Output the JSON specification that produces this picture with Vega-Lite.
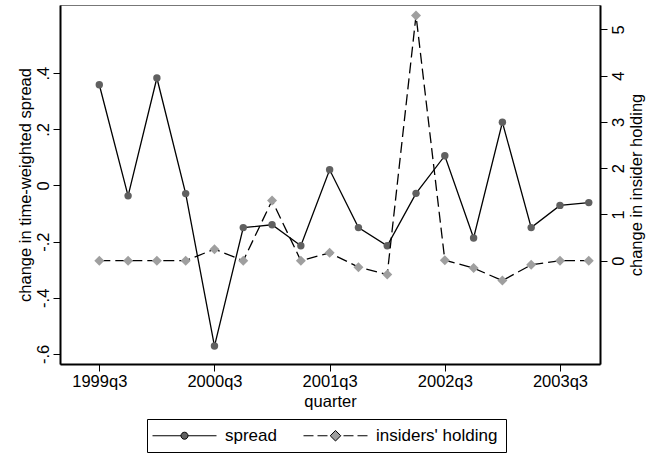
{
  "$schema": "https://vega.github.io/schema/vega-lite/v6.json",
  "width": 540,
  "height": 359,
  "autosize": {"type": "none"},
  "padding": {"left": 60, "top": 5, "right": 54, "bottom": 97},
  "background": "white",
  "config": {
    "font": "Liberation Sans",
    "view": {"stroke": "#777777", "strokeWidth": 1},
    "axis": {
      "domainColor": "black",
      "domainWidth": 2,
      "tickColor": "black",
      "tickWidth": 1,
      "tickSize": 7,
      "labelFont": "Liberation Sans",
      "labelFontSize": 16.5,
      "labelColor": "black",
      "titleFont": "Liberation Sans",
      "titleFontSize": 16.5,
      "titleFontWeight": "normal",
      "titleColor": "black",
      "grid": false
    },
    "legend": {
      "labelFont": "Liberation Sans",
      "labelFontSize": 17,
      "labelColor": "black"
    }
  },
  "data": {
    "values": [
      {"t": 0, "quarter": "1999q3", "spread": 0.359, "insider": 0},
      {"t": 1, "quarter": "1999q4", "spread": -0.037, "insider": 0},
      {"t": 2, "quarter": "2000q1", "spread": 0.383, "insider": 0},
      {"t": 3, "quarter": "2000q2", "spread": -0.029, "insider": 0},
      {"t": 4, "quarter": "2000q3", "spread": -0.572, "insider": 0.25},
      {"t": 5, "quarter": "2000q4", "spread": -0.150, "insider": 0},
      {"t": 6, "quarter": "2001q1", "spread": -0.140, "insider": 1.30},
      {"t": 7, "quarter": "2001q2", "spread": -0.215, "insider": 0},
      {"t": 8, "quarter": "2001q3", "spread": 0.056, "insider": 0.17},
      {"t": 9, "quarter": "2001q4", "spread": -0.150, "insider": -0.14},
      {"t": 10, "quarter": "2002q1", "spread": -0.215, "insider": -0.30},
      {"t": 11, "quarter": "2002q2", "spread": -0.028, "insider": 5.30},
      {"t": 12, "quarter": "2002q3", "spread": 0.106, "insider": 0.01},
      {"t": 13, "quarter": "2002q4", "spread": -0.187, "insider": -0.16},
      {"t": 14, "quarter": "2003q1", "spread": 0.225, "insider": -0.43},
      {"t": 15, "quarter": "2003q2", "spread": -0.150, "insider": -0.09},
      {"t": 16, "quarter": "2003q3", "spread": -0.071, "insider": 0},
      {"t": 17, "quarter": "2003q4", "spread": -0.061, "insider": 0}
    ]
  },
  "encoding": {
    "x": {
      "field": "t",
      "type": "quantitative",
      "scale": {"domain": [-1.365, 17.39], "nice": false, "zero": false},
      "axis": {
        "title": "quarter",
        "values": [0, 4, 8, 12, 16],
        "labelExpr": "(1999 + datum.value / 4) + 'q3'",
        "labelPadding": 2,
        "titlePadding": 4
      }
    }
  },
  "layer": [
    {
      "encoding": {
        "y": {
          "field": "spread",
          "type": "quantitative",
          "scale": {"domain": [-0.636, 0.643], "nice": false, "zero": false},
          "axis": {
            "orient": "left",
            "title": "change in time-weighted spread",
            "values": [-0.6, -0.4, -0.2, 0, 0.2, 0.4],
            "labelExpr": "datum.value == 0 ? '0' : (datum.value < 0 ? '-' : '') + replace(format(abs(datum.value), '.1f'), '0.', '.')",
            "labelAngle": 270,
            "labelAlign": "center",
            "labelBaseline": "bottom",
            "labelPadding": 2,
            "titlePadding": 2
          }
        }
      },
      "layer": [
        {"mark": {"type": "line", "color": "black", "strokeWidth": 1.3}},
        {
          "mark": {"type": "point", "shape": "circle", "filled": true, "opacity": 1, "size": 55, "color": "#606060"}
        },
        {
          "transform": [{"filter": "false"}],
          "mark": {"type": "point", "filled": true, "opacity": 1},
          "encoding": {
            "color": {
              "datum": "spread",
              "type": "nominal",
              "scale": {"domain": ["spread", "insiders' holding"], "range": ["#606060", "#9f9f9f"]},
              "legend": {
                "title": null,
                "orient": "none",
                "legendX": 87,
                "legendY": 414,
                "direction": "horizontal",
                "symbolSize": 256,
                "symbolOffset": 21,
                "symbolStrokeColor": "black",
                "symbolStrokeWidth": 1,
                "labelOffset": 32,
                "columnPadding": 24,
                "padding": 8,
                "strokeColor": "black",
                "fillColor": "white"
              }
            },
            "shape": {
              "datum": "spread",
              "type": "nominal",
              "scale": {
                "domain": ["spread", "insiders' holding"],
                "range": [
                  "M-4,0L-0.44,0M0.44,0L4,0M-0.44,0A0.44,0.44,0,1,0,0.44,0A0.44,0.44,0,1,0,-0.44,0Z",
                  "M-4,0L-2.75,0M-2.25,0L-1,0M1,0L2.25,0M2.75,0L4,0M0,-0.66L0.66,0L0,0.66L-0.66,0Z"
                ]
              },
              "legend": {
                "title": null,
                "orient": "none",
                "legendX": 87,
                "legendY": 414,
                "direction": "horizontal",
                "symbolSize": 256,
                "symbolOffset": 21,
                "symbolStrokeColor": "black",
                "symbolStrokeWidth": 1,
                "labelOffset": 32,
                "columnPadding": 24,
                "padding": 8,
                "strokeColor": "black",
                "fillColor": "white"
              }
            }
          }
        }
      ]
    },
    {
      "encoding": {
        "y": {
          "field": "insider",
          "type": "quantitative",
          "scale": {"domain": [-2.232, 5.525], "nice": false, "zero": false},
          "axis": {
            "orient": "right",
            "title": "change in insider holding",
            "values": [0, 1, 2, 3, 4, 5],
            "labelAngle": 270,
            "labelAlign": "center",
            "labelBaseline": "top",
            "labelPadding": 3,
            "titleAngle": 270,
            "titleBaseline": "top",
            "titlePadding": 2
          }
        }
      },
      "layer": [
        {"mark": {"type": "line", "color": "black", "strokeWidth": 1.3, "strokeDash": [11, 5]}},
        {
          "mark": {"type": "point", "shape": "diamond", "filled": true, "opacity": 1, "size": 100, "color": "#9f9f9f"}
        }
      ]
    }
  ],
  "resolve": {"scale": {"y": "independent"}}
}
